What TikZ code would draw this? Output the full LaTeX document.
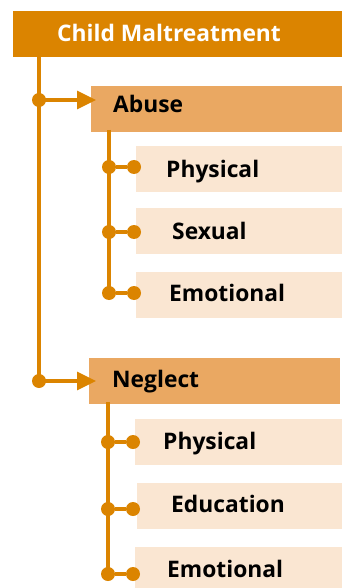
\documentclass[tikz,border=0pt]{standalone}
\usepackage{fontspec}
\setmainfont{Open Sans}
\usetikzlibrary{arrows.meta}
\definecolor{dkor}{HTML}{DB8400}
\definecolor{mdor}{HTML}{EAA862}
\definecolor{ltor}{HTML}{FAE6D2}
\begin{document}
\begin{tikzpicture}[x=1pt,y=-1pt,
  box/.style={rectangle, inner sep=0, anchor=north west, minimum height=46},
  topbox/.style={box, fill=dkor, minimum width=329},
  midbox/.style={box, fill=mdor, minimum width=251},
  subbox/.style={box, fill=ltor, minimum width=207},
  lbl/.style={anchor=base west, inner sep=0, font=\bfseries\fontsize{22.8}{23}\selectfont},
  dot/.style={circle, fill=dkor, inner sep=0, minimum size=14},
  conn/.style={draw=dkor, line width=3.2},
  arr/.style={conn, -{Triangle[length=19,width=18]}}]
\useasboundingbox (0,0) rectangle (342,588);
% boxes
\node[topbox] (cm) at (13,11) {};
\node[midbox] (ab) at (91,86) {};
\node[subbox] (ab1) at (136,146) {};
\node[subbox] (ab2) at (136,208) {};
\node[subbox] (ab3) at (136,272) {};
\node[midbox] (ne) at (89,358) {};
\node[subbox] (ne1) at (135,419) {};
\node[subbox] (ne2) at (137,483) {};
\node[subbox] (ne3) at (135,547) {};
% labels
\node[lbl, text=white] (cmt) at (57,42) {Child Maltreatment};
\node[lbl] (abt) at (113,113) {Abuse};
\node[lbl] (ab1t) at (166,177) {Physical};
\node[lbl] (ab2t) at (172,239) {Sexual};
\node[lbl] (ab3t) at (169,301) {Emotional};
\node[lbl] (net) at (112,387) {Neglect};
\node[lbl] (ne1t) at (163,449) {Physical};
\node[lbl] (ne2t) at (171,512) {Education};
\node[lbl] (ne3t) at (167,577) {Emotional};
% trunk
\coordinate (t0) at (39,57);
\node[dot] (d1) at (39,100) {};
\node[dot] (d2) at (39,381) {};
\draw[conn] (t0) -- (d2.center);
\draw[arr] (d1.center) -- (96,100) coordinate (a1);
\draw[arr] (d2.center) -- (96,381) coordinate (a2);
% abuse branch
\coordinate (b0) at (109,130);
\node[dot] (bl1) at (109,167) {};
\node[dot] (br1) at (134,167) {};
\node[dot] (bl2) at (109,232) {};
\node[dot] (br2) at (134,232) {};
\node[dot] (bl3) at (109,293) {};
\node[dot] (br3) at (134,293) {};
\draw[conn] (b0) -- (bl3.center);
\draw[conn] (bl1) -- (br1);
\draw[conn] (bl2) -- (br2);
\draw[conn] (bl3) -- (br3);
% neglect branch
\coordinate (n0) at (108,402);
\node[dot] (nl1) at (108,442) {};
\node[dot] (nr1) at (133,442) {};
\node[dot] (nl2) at (108,509) {};
\node[dot] (nr2) at (133,509) {};
\node[dot] (nl3) at (108,574) {};
\node[dot] (nr3) at (133,574) {};
\draw[conn] (n0) -- (nl3.center);
\draw[conn] (nl1) -- (nr1);
\draw[conn] (nl2) -- (nr2);
\draw[conn] (nl3) -- (nr3);
\end{tikzpicture}
\end{document}
